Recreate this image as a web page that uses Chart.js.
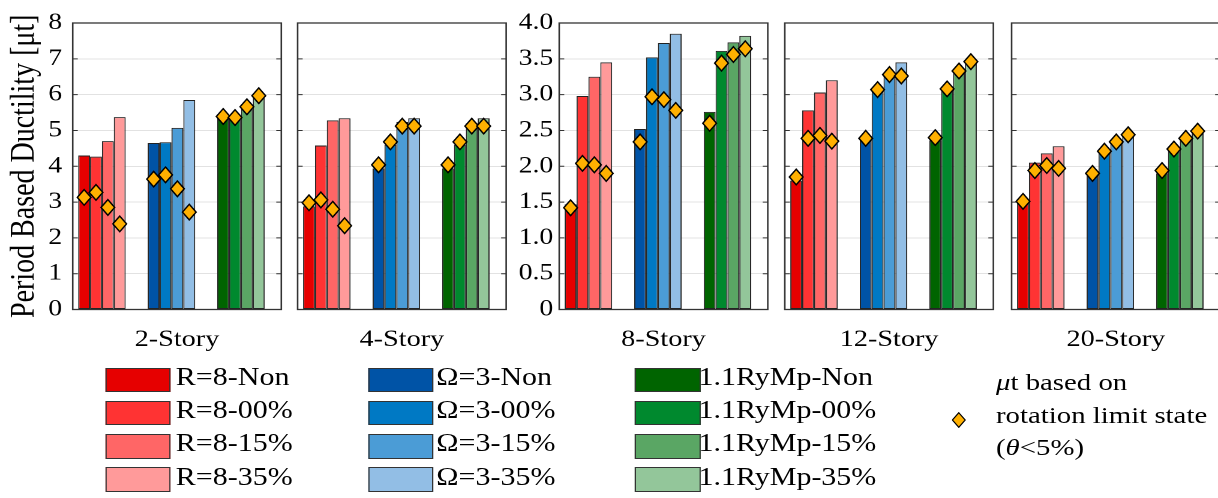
<!DOCTYPE html>
<html>
<head>
<meta charset="utf-8">
<script src="https://cdn.jsdelivr.net/npm/chart.js@4.4.1/dist/chart.umd.min.js"></script>
<style>
  html, body { margin: 0; padding: 0; background: #fff; }
  body { width: 1218px; height: 498px; overflow: hidden; position: relative; }
  #fig { position: absolute; left: 0; top: 0; width: 1015px; height: 498px;
         transform: scaleX(1.2); transform-origin: 0 0;
         font-family: "Liberation Serif", serif; color: #000; }
  #fig canvas { position: absolute; top: 0; }
  .sw { position: absolute; width: 54.5px; height: 24.6px; border: 1px solid #333; box-sizing: border-box; }
  .lt { position: absolute; font-size: 25px; line-height: 25px; white-space: nowrap; }
  #rotleg { position: absolute; left: 830px; top: 366px; font-size: 24px; line-height: 32.5px; white-space: nowrap; }
  #rotmark { position: absolute; left: 793.4px; top: 412px; }
</style>
</head>
<body>
<div id="fig"></div>
<script>
// categories
const stories = ['2-Story', '4-Story', '8-Story', '12-Story', '20-Story'];
const families = ['R=8', 'Ω=3', '1.1RyMp'];
const variants = ['Non', '00%', '15%', '35%'];
const groupPos = [1, 2, 3];

// period based ductility, [family][variant]
const bars2  = [[4.30, 4.27, 4.70, 5.37], [4.65, 4.67, 5.07, 5.85], [5.35, 5.30, 5.60, 5.95]];
const bars4  = [[1.44, 2.29, 2.64, 2.67], [1.97, 2.30, 2.62, 2.67], [1.97, 2.30, 2.60, 2.67]];
const bars8  = [[1.47, 2.98, 3.25, 3.45], [2.52, 3.52, 3.72, 3.85], [2.76, 3.61, 3.73, 3.82]];
const bars12 = [[1.80, 2.78, 3.03, 3.20], [2.36, 3.05, 3.30, 3.45], [2.36, 3.05, 3.35, 3.45]];
const bars20 = [[1.48, 2.05, 2.18, 2.28], [1.88, 2.20, 2.33, 2.45], [1.90, 2.22, 2.37, 2.48]];

// mu_t based on rotation limit state, [family][variant]
const rot2  = [[3.13, 3.27, 2.85, 2.39], [3.64, 3.76, 3.37, 2.72], [5.39, 5.36, 5.66, 5.97]];
const rot4  = [[1.49, 1.53, 1.40, 1.17], [2.02, 2.34, 2.56, 2.56], [2.02, 2.34, 2.56, 2.56]];
const rot8  = [[1.42, 2.04, 2.02, 1.90], [2.34, 2.97, 2.93, 2.78], [2.60, 3.44, 3.56, 3.64]];
const rot12 = [[1.85, 2.39, 2.43, 2.35], [2.39, 3.07, 3.28, 3.26], [2.40, 3.08, 3.33, 3.46]];
const rot20 = [[1.51, 1.94, 2.01, 1.97], [1.90, 2.21, 2.34, 2.44], [1.94, 2.24, 2.39, 2.49]];

// tick labels
const ticks8 = ['0', '1', '2', '3', '4', '5', '6', '7', '8'];
const ticks4 = ['0', '0.5', '1.0', '1.5', '2.0', '2.5', '3.0', '3.5', '4.0'];

const barData = [bars2, bars4, bars8, bars12, bars20];
const rotData = [rot2, rot4, rot8, rot12, rot20];
const yMax = [8, 4, 4, 4, 4];
const yStep = [1, 0.5, 0.5, 0.5, 0.5];
const tickLabels = [ticks8, null, ticks4, null, null];

const famColors = [
  ['#e60000', '#ff3333', '#ff6666', '#ff9a9a'],
  ['#0053a6', '#0079c4', '#4b9cd6', '#92bee5'],
  ['#006400', '#00892e', '#5aa664', '#93c69a']
];

// layout (unstretched px, the figure is stretched 1.2x horizontally)
const panelLeft = [60.6, 248.3, 465.8, 654.2, 842.5];
const plotW = 173.8;
const axisW = [60.6, 4, 50, 4, 4];
const tickPad = [8.9, 0, 5, 0, 0];
const H = 354, plotBottom = 309.5, plotTop = 23;

Chart.defaults.font.family = "'Liberation Serif', serif";
Chart.defaults.color = '#000';

const framePlugin = {
  id: 'frame',
  afterDraw(chart) {
    const {ctx, chartArea: a, scales: {y}} = chart;
    ctx.save();
    ctx.strokeStyle = '#333';
    ctx.lineWidth = 1;
    y.ticks.forEach((t, i) => {
      if (i === 0 || i === y.ticks.length - 1) return;
      const py = y.getPixelForValue(t.value);
      ctx.beginPath();
      ctx.moveTo(a.left, py); ctx.lineTo(a.left + 4.2, py);
      ctx.moveTo(a.right - 4.2, py); ctx.lineTo(a.right, py);
      ctx.stroke();
    });
    ctx.lineWidth = 1.3;
    ctx.strokeRect(a.left, a.top, a.right - a.left, a.bottom - a.top);
    ctx.restore();
  }
};

const diamondPlugin = {
  id: 'diamonds',
  afterDatasetsDraw(chart) {
    const {ctx, scales: {y}} = chart;
    ctx.save();
    ctx.fillStyle = '#ffb000';
    ctx.strokeStyle = '#000';
    ctx.lineWidth = 1.3;
    chart.data.datasets.forEach((ds, d) => {
      chart.getDatasetMeta(d).data.forEach((bar, j) => {
        const px = bar.x, py = y.getPixelForValue(ds.rot[j]);
        ctx.beginPath();
        ctx.moveTo(px, py - 7.8);
        ctx.lineTo(px + 5.7, py);
        ctx.lineTo(px, py + 7.8);
        ctx.lineTo(px - 5.7, py);
        ctx.closePath();
        ctx.fill();
        ctx.stroke();
      });
    });
    ctx.restore();
  }
};

const fig = document.getElementById('fig');

stories.forEach((story, p) => {
  const cv = document.createElement('canvas');
  const w = Math.ceil(axisW[p] + plotW + 2);
  cv.width = w;
  cv.height = H;
  cv.style.left = (panelLeft[p] - axisW[p]) + 'px';
  fig.appendChild(cv);

  const bars = barData[p], rots = rotData[p], labels = tickLabels[p];
  new Chart(cv, {
    type: 'bar',
    data: {
      datasets: variants.map((v, vi) => ({
        label: v,
        data: groupPos.map((x, fi) => ({x: x, y: bars[fi][vi]})),
        rot: rots.map(r => r[vi]),
        backgroundColor: famColors.map(c => c[vi]),
        borderColor: '#222',
        borderWidth: 1,
        borderSkipped: false,
        categoryPercentage: 0.683,
        barPercentage: 1
      }))
    },
    options: {
      responsive: false,
      animation: false,
      devicePixelRatio: 2,
      layout: {padding: {left: 0, top: plotTop, right: w - axisW[p] - plotW, bottom: 0}},
      plugins: {legend: {display: false}, tooltip: {enabled: false}},
      scales: {
        x: {
          type: 'linear',
          min: 0.58,
          max: 3.58,
          offset: false,
          afterBuildTicks: s => { s.ticks = groupPos.map(v => ({value: v})); },
          afterFit: s => { s.height = H - plotBottom; },
          ticks: {display: false},
          grid: {display: false},
          border: {display: false},
          title: {display: true, text: story, font: {size: 23.5}, padding: 0}
        },
        y: {
          min: 0,
          max: yMax[p],
          afterFit: s => { s.width = axisW[p]; },
          ticks: {
            display: labels !== null,
            stepSize: yStep[p],
            padding: tickPad[p],
            font: {size: 23},
            callback: (v, i) => labels ? labels[i] : ''
          },
          grid: {color: '#e2e2e2', drawTicks: false, lineWidth: 1},
          border: {display: false},
          title: {
            display: p === 0,
            text: 'Period Based Ductility [μt]',
            font: {size: 28},
            padding: {top: 4, bottom: 0}
          }
        }
      }
    },
    plugins: [diamondPlugin, framePlugin]
  });
});

// legend
const swLeft = [87.5, 306.7, 529];
const txLeft = [146.5, 363.5, 582];
families.forEach((f, fi) => {
  variants.forEach((v, vi) => {
    const sw = document.createElement('div');
    sw.className = 'sw';
    sw.style.left = swLeft[fi] + 'px';
    sw.style.top = (367.7 + vi * 33.2) + 'px';
    sw.style.background = famColors[fi][vi];
    fig.appendChild(sw);
    const tx = document.createElement('div');
    tx.className = 'lt';
    tx.style.left = txLeft[fi] + 'px';
    tx.style.top = (364 + vi * 33.2) + 'px';
    tx.textContent = f + '-' + v;
    fig.appendChild(tx);
  });
});

const mk = document.createElementNS('http://www.w3.org/2000/svg', 'svg');
mk.setAttribute('id', 'rotmark');
mk.setAttribute('width', '12');
mk.setAttribute('height', '16');
mk.innerHTML = '<polygon points="6,0.7 11.3,8 6,15.3 0.7,8" fill="#ffb000" stroke="#000" stroke-width="1.1"/>';
fig.appendChild(mk);

const rl = document.createElement('div');
rl.id = 'rotleg';
rl.innerHTML = '<i>μ</i>t based on<br>rotation limit state<br>(<i>θ</i>&lt;5%)';
fig.appendChild(rl);
</script>
</body>
</html>
